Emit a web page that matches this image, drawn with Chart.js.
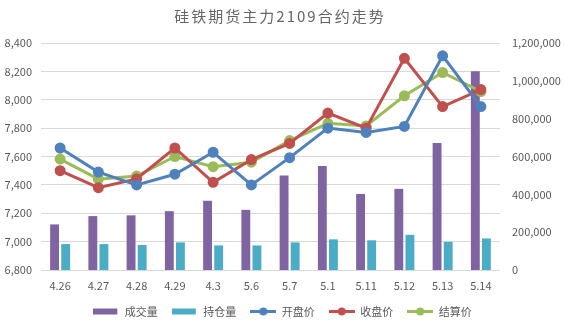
<!DOCTYPE html>
<html>
<head>
<meta charset="utf-8">
<script src="https://cdn.jsdelivr.net/npm/chart.js@4/dist/chart.umd.min.js"></script>
<style>
  html, body { margin: 0; padding: 0; background: #fff; }
  #wrap { width: 565px; height: 323px; }
</style>
</head>
<body>
<div id="wrap"><canvas id="chart" width="565" height="323"></canvas></div>
<script>
const dates = ["4.26", "4.27", "4.28", "4.29", "4.3", "5.6", "5.7", "5.1", "5.11", "5.12", "5.13", "5.14"];
const volume = [241000, 285000, 289000, 311000, 366000, 318000, 500000, 550000, 402000, 429000, 671000, 1051000];
const openInterest = [137000, 137000, 132000, 146000, 130000, 130000, 146000, 162000, 157000, 186000, 149000, 167000];
const openPrice = [7660, 7490, 7400, 7475, 7630, 7400, 7592, 7800, 7770, 7812, 8310, 7952];
const closePrice = [7500, 7380, 7442, 7660, 7418, 7578, 7692, 7906, 7800, 8292, 7952, 8072];
const settlePrice = [7582, 7440, 7462, 7600, 7528, 7560, 7712, 7834, 7815, 8028, 8192, 8058];
const priceTicks = [6800, 8400, 200];
const volumeTicks = [0, 1200000, 200000];
const titleText = "硅铁期货主力2109合约走势";

const gray = "#595959";
const font = "'Noto Sans CJK SC', 'DejaVu Sans', sans-serif";

// small legend swatches: flat bar block or line with a dot
function swatch(color, isLine) {
  const c = document.createElement("canvas");
  c.width = 26;
  c.height = 9;
  const g = c.getContext("2d");
  if (isLine) {
    g.strokeStyle = color;
    g.lineWidth = 3;
    g.beginPath();
    g.moveTo(0, 4.5);
    g.lineTo(26, 4.5);
    g.stroke();
    g.fillStyle = color;
    g.beginPath();
    g.arc(13, 4.5, 4, 0, Math.PI * 2);
    g.fill();
  } else {
    g.fillStyle = color;
    g.fillRect(0, 1.5, 24, 6);
  }
  return c;
}

function lineSet(label, data, color) {
  return {
    type: "line",
    label,
    data,
    yAxisID: "y",
    borderColor: color,
    backgroundColor: color,
    borderWidth: 3,
    pointRadius: 4,
    pointHoverRadius: 4,
    tension: 0,
    order: 1
  };
}

function barSet(label, data, color) {
  return {
    type: "bar",
    label,
    data,
    yAxisID: "y1",
    backgroundColor: color,
    categoryPercentage: 0.58,
    barPercentage: 0.8,
    order: 2
  };
}

const fmt = v => Number(v).toLocaleString("en-US");

// title with spread-out characters, drawn in the space kept by layout.padding.top
const spacedTitle = {
  id: "spacedTitle",
  afterDraw(chart) {
    const ctx = chart.ctx;
    ctx.save();
    ctx.font = "15px " + font;
    ctx.letterSpacing = "2px";
    ctx.fillStyle = "#666666";
    ctx.textAlign = "center";
    ctx.textBaseline = "middle";
    ctx.fillText(titleText, 280, 16);
    ctx.restore();
  }
};

new Chart(document.getElementById("chart"), {
  data: {
    labels: dates,
    datasets: [
      barSet("成交量", volume, "#8064A2"),
      barSet("持仓量", openInterest, "#4BACC6"),
      lineSet("开盘价", openPrice, "#4F81BD"),
      lineSet("收盘价", closePrice, "#C0504D"),
      lineSet("结算价", settlePrice, "#9BBB59")
    ]
  },
  plugins: [spacedTitle],
  options: {
    responsive: false,
    animation: false,
    layout: { padding: { top: 43, bottom: -4, left: 0, right: 0 } },
    plugins: {
      title: { display: false },
      legend: {
        position: "bottom",
        labels: {
          usePointStyle: true,
          pointStyleWidth: 26,
          color: gray,
          font: { family: font, size: 11 },
          padding: 14,
          sort: (a, b) => a.datasetIndex - b.datasetIndex,
          generateLabels: chart => {
            const items = Chart.defaults.plugins.legend.labels.generateLabels(chart);
            items.forEach(it => {
              const ds = chart.data.datasets[it.datasetIndex];
              it.pointStyle = swatch(ds.backgroundColor, ds.type === "line");
            });
            return items;
          }
        }
      },
      tooltip: { enabled: false }
    },
    scales: {
      x: {
        grid: { display: false },
        border: { display: false },
        ticks: { color: gray, font: { family: font, size: 11 }, padding: 1 },
        afterFit: s => { s.height = 22; }
      },
      y: {
        position: "left",
        min: priceTicks[0],
        max: priceTicks[1],
        ticks: { stepSize: priceTicks[2], color: gray, font: { family: font, size: 11 }, padding: 9, callback: fmt },
        grid: { color: "#D9D9D9", drawTicks: false },
        border: { display: false },
        afterFit: s => { s.width = 41; }
      },
      y1: {
        position: "right",
        min: volumeTicks[0],
        max: volumeTicks[1],
        ticks: { stepSize: volumeTicks[2], color: gray, font: { family: font, size: 11 }, padding: 12, callback: fmt },
        grid: { display: false, drawTicks: false },
        border: { display: false },
        afterFit: s => { s.width = 65; }
      }
    }
  }
});
</script>
</body>
</html>
